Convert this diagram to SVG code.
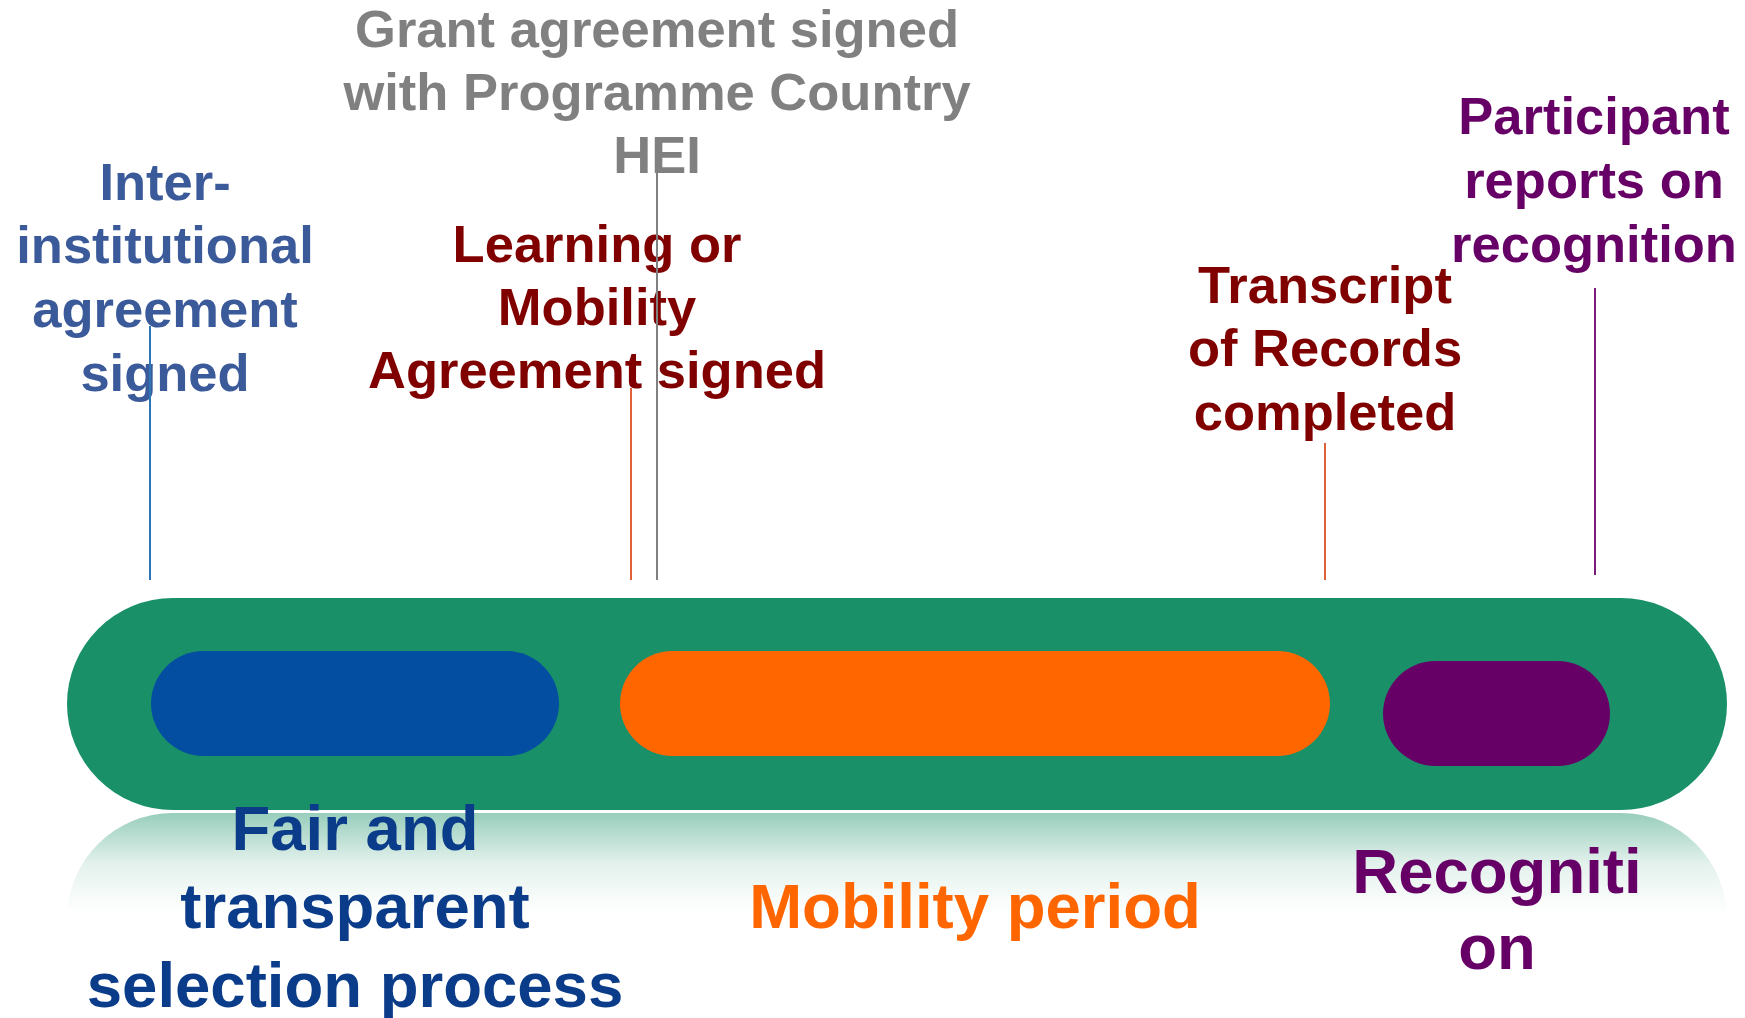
<svg xmlns="http://www.w3.org/2000/svg" width="1745" height="1018" viewBox="0 0 1745 1018">
  <defs>
    <linearGradient id="refl" gradientUnits="userSpaceOnUse" x1="0" y1="813" x2="0" y2="915">
      <stop offset="0" stop-color="#1A9069" stop-opacity="0.45"/>
      <stop offset="0.5" stop-color="#1A9069" stop-opacity="0.12"/>
      <stop offset="0.85" stop-color="#1A9069" stop-opacity="0.03"/>
      <stop offset="1" stop-color="#1A9069" stop-opacity="0"/>
    </linearGradient>
  </defs>
  <style>
    text { font-family: "Liberation Sans", Arial, sans-serif; font-weight: bold; text-anchor: middle; }
    .top { font-size: 52.5px; }
    .bot { font-size: 63.5px; }
    .gray { fill: #808080; }
    .steel { fill: #3B5A9A; }
    .dred { fill: #800000; }
    .purp { fill: #660066; }
    .navy { fill: #0A3C8A; }
    .orng { fill: #FF6600; }
    .conn line { stroke-width: 2; }
  </style>
  <rect width="1745" height="1018" fill="#FFFFFF"/>

  <g id="timeline-bar">
    <rect x="67" y="813" width="1660" height="212" rx="106" ry="106" fill="url(#refl)"/>
    <rect x="67" y="598" width="1660" height="212" rx="106" ry="106" fill="#1A9069"/>
  </g>

  <g id="selection-phase">
    <rect x="151" y="651" width="408" height="105" rx="52.5" ry="52.5" fill="#044EA1"/>
    <text class="bot navy" x="355" y="850">Fair and</text>
    <text class="bot navy" x="355" y="928">transparent</text>
    <text class="bot navy" x="355" y="1007">selection process</text>
  </g>

  <g id="mobility-phase">
    <rect x="620" y="651" width="710" height="105" rx="52.5" ry="52.5" fill="#FF6600"/>
    <text class="bot orng" x="975" y="928">Mobility period</text>
  </g>

  <g id="recognition-phase">
    <rect x="1383" y="661" width="227" height="105" rx="52.5" ry="52.5" fill="#660066"/>
    <text class="bot purp" x="1497" y="893">Recogniti</text>
    <text class="bot purp" x="1497" y="969">on</text>
  </g>

  <g id="inter-institutional">
    <text class="top steel" x="165" y="200">Inter-</text>
    <text class="top steel" x="165" y="263">institutional</text>
    <text class="top steel" x="165" y="327">agreement</text>
    <text class="top steel" x="165" y="391">signed</text>
  </g>

  <g id="grant-agreement">
    <text class="top gray" x="657" y="47">Grant agreement signed</text>
    <text class="top gray" x="657" y="110">with Programme Country</text>
    <text class="top gray" x="657" y="173">HEI</text>
  </g>

  <g id="learning-agreement">
    <text class="top dred" x="597" y="262">Learning or</text>
    <text class="top dred" x="597" y="325">Mobility</text>
    <text class="top dred" x="597" y="388">Agreement signed</text>
  </g>

  <g id="transcript">
    <text class="top dred" x="1325" y="303">Transcript</text>
    <text class="top dred" x="1325" y="366">of Records</text>
    <text class="top dred" x="1325" y="430">completed</text>
  </g>

  <g id="participant-reports">
    <text class="top purp" x="1594" y="134">Participant</text>
    <text class="top purp" x="1594" y="198">reports on</text>
    <text class="top purp" x="1594" y="262">recognition</text>
  </g>

  <g id="connectors" class="conn">
    <line x1="150" y1="326" x2="150" y2="580" stroke="#2E75B6"/>
    <line x1="631" y1="388" x2="631" y2="580" stroke="#E0603A"/>
    <line x1="657" y1="172" x2="657" y2="580" stroke="#808080"/>
    <line x1="1325" y1="443" x2="1325" y2="580" stroke="#E0603A"/>
    <line x1="1595" y1="288" x2="1595" y2="575" stroke="#7A1A7A"/>
  </g>
</svg>
